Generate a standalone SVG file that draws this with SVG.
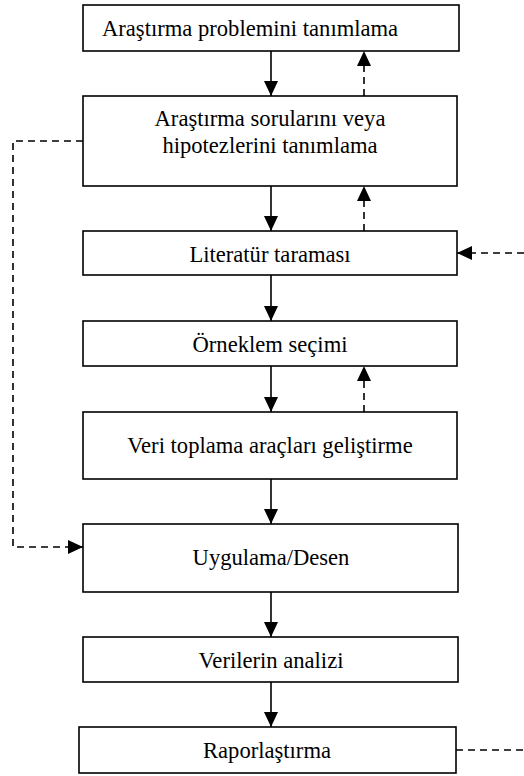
<svg xmlns="http://www.w3.org/2000/svg" width="524" height="776" viewBox="0 0 524 776">
<defs>
<style>
.box{fill:#fff;stroke:#000;stroke-width:1.6}
.t{font-family:"Liberation Serif","Times New Roman",serif;font-size:22.6px;fill:#000}
.c{text-anchor:middle}
.ln{fill:none;stroke:#000;stroke-width:1.6}
.d{stroke-dasharray:7 5}
</style>
<marker id="ah" markerWidth="15" markerHeight="14" refX="15" refY="7" orient="auto" markerUnits="userSpaceOnUse" viewBox="0 0 15 14">
<path d="M0,0 L15,7 L0,14 Z" fill="#000"/>
</marker>
</defs>
<rect width="524" height="776" fill="#fff"/>
<g id="n1"><rect class="box" x="83" y="5" width="376" height="46"/><text class="t" x="102" y="36">Araştırma problemini tanımlama</text></g>
<g id="n2"><rect class="box" x="83" y="96" width="374" height="90"/><text class="t c" x="270" y="126">Araştırma sorularını veya</text><text class="t c" x="270" y="153">hipotezlerini tanımlama</text></g>
<g id="n3"><rect class="box" x="83" y="231" width="374" height="44"/><text class="t c" x="270" y="262">Literatür taraması</text></g>
<g id="n4"><rect class="box" x="83" y="321" width="374" height="45"/><text class="t c" x="270" y="352">Örneklem seçimi</text></g>
<g id="n5"><rect class="box" x="83" y="412" width="374" height="67"/><text class="t c" x="270" y="453">Veri toplama araçları geliştirme</text></g>
<g id="n6"><rect class="box" x="83" y="524" width="375" height="68"/><text class="t c" x="271" y="565">Uygulama/Desen</text></g>
<g id="n7"><rect class="box" x="83" y="637" width="375" height="45"/><text class="t c" x="271" y="668">Verilerin analizi</text></g>
<g id="n8"><rect class="box" x="79" y="727" width="377" height="46"/><text class="t c" x="267" y="758">Raporlaştırma</text></g>
<g id="connectors">
<line class="ln" x1="271" y1="51" x2="271" y2="96" marker-end="url(#ah)"/>
<line class="ln d" x1="364" y1="96" x2="364" y2="51" marker-end="url(#ah)"/>
<line class="ln" x1="271" y1="186" x2="271" y2="231" marker-end="url(#ah)"/>
<line class="ln d" x1="364" y1="231" x2="364" y2="186" marker-end="url(#ah)"/>
<line class="ln" x1="271" y1="275" x2="271" y2="321" marker-end="url(#ah)"/>
<line class="ln" x1="271" y1="366" x2="271" y2="412" marker-end="url(#ah)"/>
<line class="ln d" x1="364" y1="412" x2="364" y2="366" marker-end="url(#ah)"/>
<line class="ln" x1="271" y1="479" x2="271" y2="524" marker-end="url(#ah)"/>
<line class="ln" x1="271" y1="592" x2="271" y2="637" marker-end="url(#ah)"/>
<line class="ln" x1="271" y1="682" x2="271" y2="727" marker-end="url(#ah)"/>
<polyline class="ln d" points="83,141 13,141 13,547 83,547" marker-end="url(#ah)"/>
<line class="ln d" x1="524" y1="253" x2="457" y2="253" marker-end="url(#ah)"/>
<line class="ln d" x1="456" y1="750" x2="524" y2="750"/>
</g>
</svg>
